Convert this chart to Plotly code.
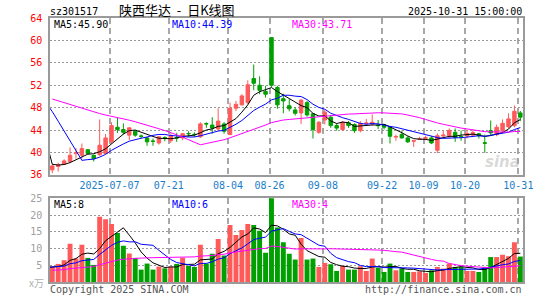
import plotly.graph_objects as go
import pandas as pd

# ---------------- data ----------------
tick_labels = ["2025-07-07", "07-21", "08-04", "08-26", "09-08", "09-22", "10-09", "10-20", "10-31"]
tick_index = [10, 20, 30, 37, 46, 56, 63, 70, 79]

opens = [36.9, 37.5, 37.9, 38.4, 39.8, 39.5, 40.5, 39.5, 39.6, 39.8,
         41.9, 44.5, 44.1, 43.1, 43.8, 42.95, 42.6, 42.05, 41.7, 42.65,
         42.1, 42.65, 42.6, 43.4, 43.25, 42.8, 45.15, 44.9, 44.2, 45.1,
         43.2, 47.9, 48.5, 48.9, 53.2, 52.0, 50.9, 60.5, 51.6, 49.6,
         48.35, 47.6, 47.06, 48.9, 46.9, 43.6, 45.8, 46.3, 44.8, 44.1,
         45.3, 45.0, 43.9, 45.15, 45.1, 44.85, 45.0, 44.5, 42.75, 43.2,
         42.6, 42.0, 42.35, 42.55, 42.6, 40.4, 42.95, 43.0, 43.6, 42.85,
         42.95, 43.1, 43.35, 41.75, 43.9, 43.2, 43.9, 44.6, 44.8, 47.06]
highs = [37.9, 38.2, 38.8, 40.9, 40.8, 41.6, 40.6, 39.6, 45.9, 43.3,
         45.4, 46.2, 45.2, 44.5, 43.9, 43.2, 42.8, 42.5, 42.9, 42.9,
         43.4, 43.5, 43.5, 43.8, 43.6, 45.4, 45.4, 46.3, 47.9, 45.4,
         48.9, 49.2, 50.4, 52.9, 55.7, 53.6, 51.9, 60.6, 51.9, 50.5,
         49.5, 48.1, 49.5, 49.2, 47.0, 45.6, 47.6, 46.7, 45.2, 45.6,
         45.6, 45.2, 45.6, 46.0, 46.8, 45.8, 45.1, 44.6, 43.2, 43.9,
         42.9, 42.15, 42.8, 43.0, 42.9, 43.4, 43.9, 44.3, 44.3, 43.9,
         44.0, 44.1, 43.5, 43.2, 45.7, 45.0, 45.9, 47.0, 48.4, 47.4]
lows = [36.3, 36.6, 37.8, 38.1, 38.9, 38.9, 39.7, 38.4, 39.4, 39.7,
        41.6, 43.5, 43.2, 42.2, 42.8, 42.5, 41.2, 41.2, 41.4, 42.0,
        41.7, 41.9, 42.2, 42.8, 42.8, 42.6, 44.4, 43.35, 43.9, 43.35,
        43.1, 47.4, 48.35, 48.6, 51.1, 50.4, 49.8, 51.7, 47.8, 47.0,
        47.35, 46.6, 45.1, 46.4, 42.5, 43.35, 45.0, 44.4, 43.9, 43.8,
        44.4, 43.5, 43.6, 44.8, 44.8, 44.2, 44.1, 41.6, 42.1, 42.5,
        41.7, 41.0, 42.2, 42.2, 41.5, 39.9, 42.6, 42.5, 41.9, 42.1,
        42.5, 42.9, 42.5, 39.95, 43.0, 42.9, 43.5, 44.3, 44.5, 45.6]
closes = [37.6, 37.8, 38.5, 39.5, 40.0, 40.7, 39.8, 38.9, 41.3, 42.6,
          44.8, 44.1, 43.6, 44.4, 43.1, 42.9, 41.9, 42.0, 42.8, 42.6,
          43.0, 42.6, 43.35, 43.35, 43.2, 45.1, 45.1, 44.35, 45.6, 43.8,
          47.9, 48.6, 50.1, 52.1, 52.35, 51.1, 50.4, 52.0, 48.5, 49.2,
          47.8, 47.0, 49.35, 46.7, 44.1, 45.4, 47.2, 44.8, 44.35, 45.4,
          44.8, 43.9, 45.2, 45.25, 45.4, 44.8, 44.5, 42.9, 42.85, 42.6,
          41.9, 42.1, 42.45, 42.65, 41.7, 43.0, 43.1, 43.95, 42.7, 42.8,
          43.4, 43.55, 43.0, 41.65, 43.5, 44.5, 45.2, 46.0, 47.35, 46.3]
volumes = [4.6, 5.4, 6.5, 11.4, 7.0, 11.1, 7.2, 5.1, 19.5, 18.7,
           17.3, 14.6, 10.8, 8.5, 7.2, 3.7, 5.5, 3.7, 4.6, 4.1,
           4.6, 5.4, 7.25, 4.8, 4.5, 11.1, 5.5, 8.4, 12.8, 7.9,
           17.0, 14.0, 15.5, 17.3, 17.0, 15.3, 8.7, 26.5, 16.3, 11.9,
           8.4, 6.7, 13.1, 6.7, 7.0, 4.5, 5.7, 5.3, 3.3, 4.8,
           3.7, 3.7, 4.7, 3.3, 7.0, 4.3, 3.0, 5.5, 3.5, 4.0,
           3.0, 3.0, 3.2, 2.7, 3.5, 4.5, 4.0, 5.5, 4.5, 4.5,
           3.3, 3.3, 3.0, 4.5, 7.45, 7.45, 8.1, 7.7, 11.9, 7.6]
# closes / volumes of the sessions before the visible window (needed for the moving averages)
prev_closes = [48.0, 48.5, 49.0, 49.0, 49.5, 50.0, 50.0, 50.5, 50.5, 51.0,
               51.0, 51.0, 51.5, 51.5, 51.5, 51.5, 52.0, 52.0, 52.5, 53.0,
               55.0, 56.0, 57.0, 57.5, 58.0, 38.5, 38.0, 37.8, 37.6]
prev_volumes = [2.8, 3.0, 2.6, 3.2, 2.9, 3.1, 2.7, 3.0, 3.3, 2.8,
                3.1, 2.9, 3.0, 3.2, 2.8, 3.1, 3.0, 3.3, 3.0, 3.2,
                4.5, 4.6, 4.3, 4.6, 4.4, 4.5, 4.2, 4.6, 4.4]

title_code = "sz301517"
title_name = "陕西华达 - 日K线图"
title_time = "2025-10-31 15:00:00"
price_legend = ["MA5:45.90", "MA10:44.39", "MA30:43.71"]
vol_legend = ["MA5:8", "MA10:6", "MA30:4"]
price_ticks = [36, 40, 44, 48, 52, 56, 60, 64]
vol_ticks = [5, 10, 15, 20, 25]
ma_periods = [5, 10, 30]

# ---------------- styles ----------------
RED = "#ff5a5a"
GREEN = "#00a000"
MA_COLORS = ["#000000", "#0000ff", "#ff00ff"]
MONO = "DejaVu Sans Mono"
GRID_V = "#a8a8a8"
GRID_H = "#9a9a9a"
FRAME = "#9a9a9a"

n = len(closes)
x = list(range(n))
npre = len(prev_closes)
x_all = list(range(-npre, n))

fig = go.Figure()

fig.add_trace(go.Candlestick(
    x=x, open=opens, high=highs, low=lows, close=closes,
    increasing=dict(line=dict(color=RED, width=1), fillcolor=RED),
    decreasing=dict(line=dict(color=GREEN, width=1), fillcolor=GREEN),
    whiskerwidth=0, xaxis="x", yaxis="y", hoverinfo="skip"))

cs = pd.Series(prev_closes + closes)
vs = pd.Series(prev_volumes + volumes)
sel = [k for k, xv in enumerate(x_all) if xv >= -2]
for p, col in zip(ma_periods, MA_COLORS):
    ma = cs.rolling(p).mean()
    fig.add_trace(go.Scatter(x=[x_all[k] for k in sel], y=[ma[k] for k in sel],
                             mode="lines", line=dict(color=col, width=1),
                             xaxis="x", yaxis="y", hoverinfo="skip"))

bar_colors = [RED if c > o else GREEN for o, c in zip(opens, closes)]
fig.add_trace(go.Bar(x=x, y=volumes, marker=dict(color=bar_colors, line=dict(width=0)),
                     width=0.83, xaxis="x2", yaxis="y2", hoverinfo="skip"))
for p, col in zip(ma_periods, MA_COLORS):
    ma = vs.rolling(p).mean()
    fig.add_trace(go.Scatter(x=[x_all[k] for k in sel], y=[ma[k] for k in sel],
                             mode="lines", line=dict(color=col, width=1),
                             xaxis="x2", yaxis="y2", hoverinfo="skip"))

grid_x = [i - 0.333 for i in tick_index]
xrange = [-0.383, 79.45]

# layout geometry: plot area from y=18 to y=285 (267 px), x from 50 to 529
H_TOP, H_BOT = 18, 15
AREA_H = 300 - H_TOP - H_BOT


def py(pix):
    return (300 - H_BOT - pix) / AREA_H


def px(pix):
    return (pix - 50) / 479.0


common_x = dict(range=xrange, showgrid=True, gridcolor=GRID_V, gridwidth=1.5,
                griddash="6px,4px", showline=True, mirror=True, linecolor=FRAME,
                linewidth=1.5, zeroline=False, ticks="", tickvals=grid_x,
                fixedrange=True)

fig.update_layout(
    width=545, height=300,
    margin=dict(l=50, r=16, t=H_TOP, b=H_BOT, pad=0),
    paper_bgcolor="white", plot_bgcolor="white",
    showlegend=False, boxgap=0.17,
    xaxis=dict(**common_x, anchor="y", domain=[0, 1], ticktext=tick_labels,
               tickfont=dict(family=MONO, size=10, color="#1a7dc9"),
               rangeslider=dict(visible=False)),
    xaxis2=dict(**common_x, anchor="y2", domain=[0, 1], matches="x",
                showticklabels=False),
    yaxis=dict(domain=[py(176.7), 1.0], range=[36, 64], tickvals=price_ticks,
               tickfont=dict(family=MONO, size=10, color="#ff0000"),
               showgrid=True, gridcolor=GRID_H, gridwidth=1, griddash="2px,2px",
               showline=True, mirror=True, linecolor=FRAME, linewidth=1.5,
               zeroline=False, ticks="", ticklabelstandoff=4, fixedrange=True),
    yaxis2=dict(domain=[0, py(200.3)], range=[0, 25], tickvals=vol_ticks,
                tickfont=dict(family=MONO, size=10, color="#a0a0a0"),
                showgrid=True, gridcolor=GRID_H, gridwidth=1, griddash="2px,2px",
                showline=True, mirror=True, linecolor=FRAME, linewidth=1.5,
                zeroline=False, ticks="", ticklabelstandoff=4, fixedrange=True),
)

ann = []


def text(t, xp, yp, color="#000", size=10, family=MONO, xanchor="left", **kw):
    ann.append(dict(text=t, x=px(xp), y=py(yp), xref="paper", yref="paper",
                    xanchor=xanchor, yanchor="middle", showarrow=False,
                    borderpad=0,
                    font=dict(family=family, size=size, color=color, **kw)))


text(title_code, 49, 11.0, size=10)
text(title_name.replace(" - ", "  -  "), 119, 9.0, size=13, family="Noto Sans CJK SC")
text(title_time, 529, 11.5, size=10, xanchor="right")

leg_x = [53, 173, 294]
for t, xx, col in zip(price_legend, leg_x, MA_COLORS):
    text(t, xx, 25.0, color=col, size=10)
for t, xx, col in zip(vol_legend, leg_x, MA_COLORS):
    text(t, xx, 206.3, color=col, size=10)

text("Copyright 2025 SINA.COM", 49, 292.2, color="#555555", size=10)
text("http://finance.sina.com.cn", 529, 292.2, color="#555555", size=10, xanchor="right")
text("x万", 45, 285.5, color="#b0b0b0", size=10, family="Noto Sans CJK SC", xanchor="right")
text("sina", 527, 164, color="rgba(170,170,170,0.45)", size=15, family="DejaVu Sans",
     xanchor="right", weight="bold", style="italic")

fig.update_layout(annotations=ann)

fig.write_html("out.html")
